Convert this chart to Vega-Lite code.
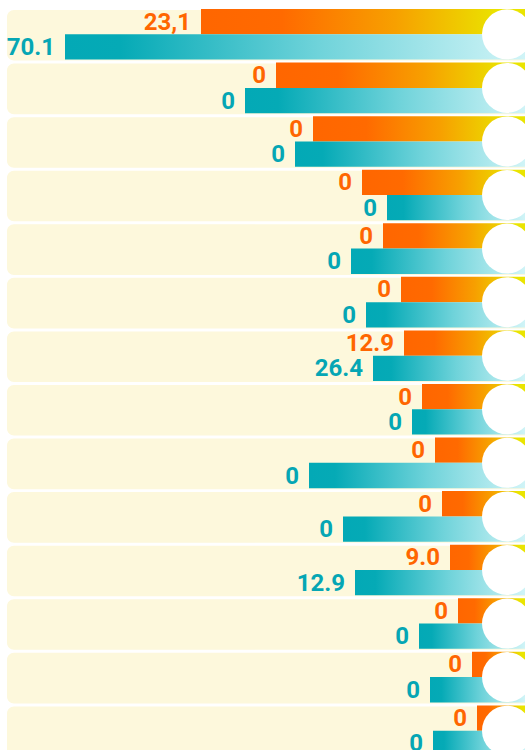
{
  "$schema": "https://vega.github.io/schema/vega-lite/v6.json",
  "width": 525,
  "height": 747,
  "autosize": "none",
  "padding": {"top": 9, "left": 0, "right": 0, "bottom": 0},
  "background": "white",
  "config": {"view": {"stroke": null}},
  "data": {
    "values": [
      {"row": 1, "series": "o", "len": 324, "label": "23,1"},
      {"row": 1, "series": "t", "len": 460, "label": "70.1"},
      {"row": 2, "series": "o", "len": 249, "label": "0"},
      {"row": 2, "series": "t", "len": 280, "label": "0"},
      {"row": 3, "series": "o", "len": 212, "label": "0"},
      {"row": 3, "series": "t", "len": 230, "label": "0"},
      {"row": 4, "series": "o", "len": 163, "label": "0"},
      {"row": 4, "series": "t", "len": 138, "label": "0"},
      {"row": 5, "series": "o", "len": 142, "label": "0"},
      {"row": 5, "series": "t", "len": 174, "label": "0"},
      {"row": 6, "series": "o", "len": 124, "label": "0"},
      {"row": 6, "series": "t", "len": 159, "label": "0"},
      {"row": 7, "series": "o", "len": 121, "label": "12.9"},
      {"row": 7, "series": "t", "len": 152, "label": "26.4"},
      {"row": 8, "series": "o", "len": 103, "label": "0"},
      {"row": 8, "series": "t", "len": 113, "label": "0"},
      {"row": 9, "series": "o", "len": 90, "label": "0"},
      {"row": 9, "series": "t", "len": 216, "label": "0"},
      {"row": 10, "series": "o", "len": 83, "label": "0"},
      {"row": 10, "series": "t", "len": 182, "label": "0"},
      {"row": 11, "series": "o", "len": 75, "label": "9.0"},
      {"row": 11, "series": "t", "len": 170, "label": "12.9"},
      {"row": 12, "series": "o", "len": 67, "label": "0"},
      {"row": 12, "series": "t", "len": 106, "label": "0"},
      {"row": 13, "series": "o", "len": 53, "label": "0"},
      {"row": 13, "series": "t", "len": 95, "label": "0"},
      {"row": 14, "series": "o", "len": 48, "label": "0"},
      {"row": 14, "series": "t", "len": 92, "label": "0"}
    ]
  },
  "encoding": {
    "y": {"field": "row", "type": "ordinal", "axis": null, "scale": {"paddingInner": 0.055, "paddingOuter": 0}}
  },
  "layer": [
    {
      "transform": [{"filter": "datum.series === 'o'"}],
      "mark": {"type": "bar", "color": "#FDF8DC", "cornerRadius": 7, "yOffset": 1},
      "encoding": {
        "x": {"datum": 518, "type": "quantitative", "scale": {"domain": [0, 525], "reverse": true, "nice": false, "zero": false}, "axis": null},
        "x2": {"datum": -20}
      }
    },
    {
      "transform": [{"filter": "datum.series === 'o'"}],
      "mark": {"type": "bar", "color": {"gradient": "linear", "x1": 0, "y1": 0, "x2": 1, "y2": 0, "stops": [{"offset": 0, "color": "#FF6600"}, {"offset": 0.25, "color": "#FF6A00"}, {"offset": 0.6, "color": "#F7A000"}, {"offset": 0.92, "color": "#EAE400"}, {"offset": 1, "color": "#EAE400"}]}},
      "encoding": {
        "x": {"field": "len", "type": "quantitative"},
        "x2": {"datum": 0},
        "yOffset": {"field": "series", "type": "nominal", "scale": {"domain": ["o", "t"], "paddingInner": 0, "paddingOuter": 0}}
      }
    },
    {
      "transform": [{"filter": "datum.series === 't'"}],
      "mark": {"type": "bar", "color": {"gradient": "linear", "x1": 0, "y1": 0, "x2": 1, "y2": 0, "stops": [{"offset": 0, "color": "#03A9B6"}, {"offset": 0.12, "color": "#05AAB6"}, {"offset": 0.55, "color": "#6FD3DA"}, {"offset": 1, "color": "#D0F4F7"}]}},
      "encoding": {
        "x": {"field": "len", "type": "quantitative"},
        "x2": {"datum": 0},
        "yOffset": {"field": "series", "type": "nominal", "scale": {"domain": ["o", "t"], "paddingInner": 0, "paddingOuter": 0}}
      }
    },
    {
      "transform": [{"filter": "datum.series === 'o'"}],
      "mark": {"type": "point", "shape": "circle", "filled": true, "color": "white", "opacity": 1, "size": 2500, "strokeWidth": 0},
      "encoding": {
        "x": {"datum": 18, "type": "quantitative"}
      }
    },
    {
      "mark": {"type": "text", "align": "right", "baseline": "alphabetic", "dx": -10, "dy": 8, "font": "Roboto", "fontWeight": "bold", "fontSize": 24},
      "encoding": {
        "x": {"field": "len", "type": "quantitative"},
        "yOffset": {"field": "series", "type": "nominal", "scale": {"domain": ["o", "t"], "paddingInner": 0, "paddingOuter": 0}},
        "text": {"field": "label"},
        "color": {"field": "series", "type": "nominal", "scale": {"domain": ["o", "t"], "range": ["#FF6600", "#05A6B4"]}, "legend": null}
      }
    }
  ]
}
